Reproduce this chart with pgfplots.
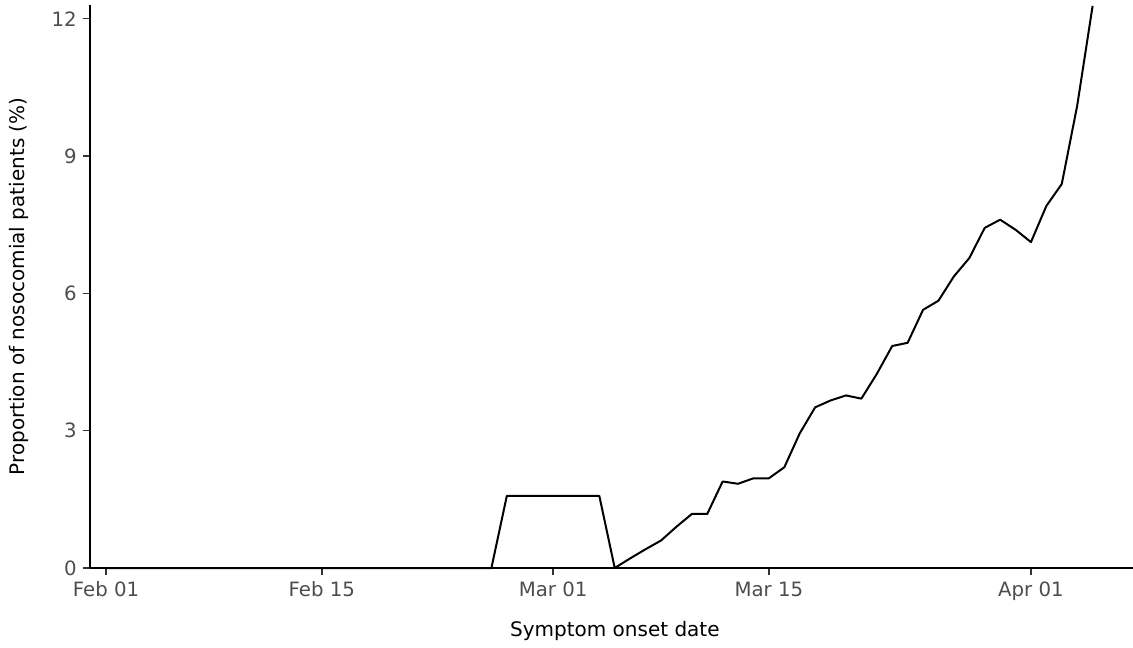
\documentclass[border=0pt]{standalone}
\usepackage{fontspec}
\setmainfont{DejaVu Sans}
\usepackage{pgfplots}
\usepackage{pgfplotstable}
\pgfplotsset{compat=1.18}

\definecolor{ticktext}{HTML}{4D4D4D}
\definecolor{tickline}{HTML}{333333}

% day index (0 = Feb 01, 2020) and proportion of nosocomial patients (%)
\pgfplotstableread{
day value
0 0
1 0
2 0
3 0
4 0
5 0
6 0
7 0
8 0
9 0
10 0
11 0
12 0
13 0
14 0
15 0
16 0
17 0
18 0
19 0
20 0
21 0
22 0
23 0
24 0
25 0
26 1.575
27 1.575
28 1.575
29 1.575
30 1.575
31 1.575
32 1.575
33 0
34 0.21
35 0.41
36 0.60
37 0.90
38 1.18
39 1.18
40 1.89
41 1.84
42 1.96
43 1.96
44 2.20
45 2.94
46 3.51
47 3.66
48 3.77
49 3.70
50 4.24
51 4.85
52 4.92
53 5.64
54 5.84
55 6.37
56 6.77
57 7.43
58 7.61
59 7.39
60 7.12
61 7.91
62 8.39
63 10.10
64 12.28
}\nosocomial

\begin{document}
\begin{tikzpicture}
\begin{axis}[
  at={(0,0)}, anchor=south west,
  scale only axis,
  width=782.25pt, height=422.25pt,
  xmin=-1.04, xmax=66.62,
  ymin=0, ymax=12.30,
  axis x line*=bottom, axis y line*=left,
  axis line style={-, line width=1.4pt, black},
  xtick={0,14,29,43,60},
  xticklabels={Feb 01, Feb 15, Mar 01, Mar 15, Apr 01},
  ytick={0,3,6,9,12},
  tick align=outside,
  major tick length=5.5pt,
  tick style={line width=1.1pt, tickline},
  /pgf/number format/assume math mode=true,
  tick label style={font=\fontsize{14.8}{17}\selectfont, text=ticktext},
  xticklabel style={yshift=-1pt, text height=11pt, text depth=1pt},
  yticklabel style={xshift=-1pt},
  label style={font=\fontsize{15}{18}\selectfont},
  xlabel={Symptom onset date},
  ylabel={Proportion of nosocomial patients (\%)},
  x label style={at={(axis description cs:0.5,0)}, anchor=center, yshift=-47pt, xshift=2.5pt},
  y label style={at={(axis description cs:0,0.5)}, anchor=center, yshift=53.5pt},
  clip=false,
]
\addplot[black, line width=1.5pt, line join=round] table[x=day, y=value] {\nosocomial};
\end{axis}
\pgfresetboundingbox
\path (-67.5pt,-59.25pt) rectangle (782.25pt,426pt);
\end{tikzpicture}
\end{document}
